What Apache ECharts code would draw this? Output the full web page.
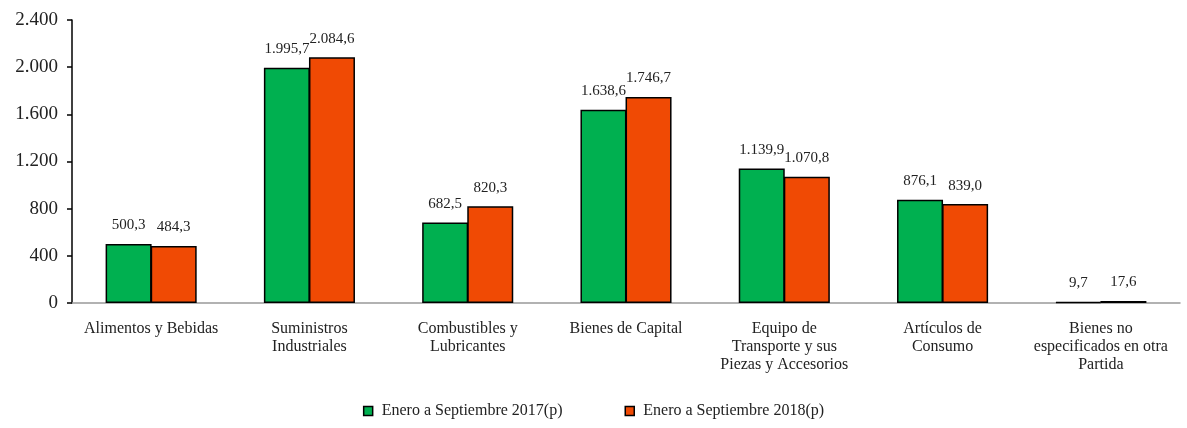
<!DOCTYPE html>
<html><head><meta charset="utf-8">
<script src="https://cdn.jsdelivr.net/npm/echarts@6/dist/echarts.min.js"></script>
<style>html,body{margin:0;padding:0;background:#fff}#c{width:1187px;height:428px}</style>
</head><body><div id="c"></div>
<script>
const categories = ["Alimentos y Bebidas","Suministros\nIndustriales","Combustibles y\nLubricantes","Bienes de Capital","Equipo de\nTransporte y sus\nPiezas y Accesorios","Artículos de\nConsumo","Bienes no\nespecificados en otra\nPartida"];
const series2017 = [500.3,1995.7,682.5,1638.6,1139.9,876.1,9.7];
const series2018 = [484.3,2084.6,820.3,1746.7,1070.8,839.0,17.6];
const seriesNames = ["Enero a Septiembre 2017(p)","Enero a Septiembre 2018(p)"];
const yTicks = {min:0,max:2400,interval:400};

const FONT = "'Liberation Serif', 'DejaVu Serif', serif";
function fmt(v, dec){
  const s = dec ? v.toFixed(1) : String(Math.round(v));
  let [i,d] = s.split('.');
  i = i.replace(/\B(?=(\d{3})+(?!\d))/g,'.');
  return d ? i+','+d : i;
}
const chart = echarts.init(document.getElementById('c'));
const mkSeries = (name, data, color) => ({
  name, type:'bar', data, barWidth:46, barGap:'-2%',
  itemStyle:{color, borderColor:'#000', borderWidth:1.5},
  label:{show:true, position:'top', distance:11, color:'#222', fontFamily:FONT, fontSize:15,
    formatter:p=>fmt(p.value,true)}
});
chart.setOption({
  animation:false,
  textStyle:{fontFamily:FONT},
  grid:{left:72,right:7,top:20,bottom:125,containLabel:false},
  legend:{bottom:4,left:'center',itemWidth:9,itemHeight:9,itemGap:62,
    textStyle:{fontFamily:FONT,fontSize:16,color:'#222',padding:[0,0,0,4]},
    data:seriesNames.map(n=>({name:n,icon:'rect',itemStyle:{borderColor:'#000',borderWidth:1.5}}))},
  xAxis:{type:'category',data:categories,
    axisLine:{lineStyle:{color:'#999',width:1.5}},axisTick:{show:false},
    axisLabel:{interval:0,color:'#222',fontFamily:FONT,fontSize:16,lineHeight:18,margin:17}},
  yAxis:{type:'value',min:yTicks.min,max:yTicks.max,interval:yTicks.interval,
    axisLine:{show:true,lineStyle:{color:'#000',width:1.5}},
    axisTick:{show:true,length:5,lineStyle:{color:'#000',width:1.5}},
    splitLine:{show:false},
    axisLabel:{color:'#222',fontFamily:FONT,fontSize:19,margin:14,formatter:v=>fmt(v,false)}},
  series:[mkSeries(seriesNames[0],series2017,'#00B050'),mkSeries(seriesNames[1],series2018,'#F04A04')]
});
</script></body></html>
